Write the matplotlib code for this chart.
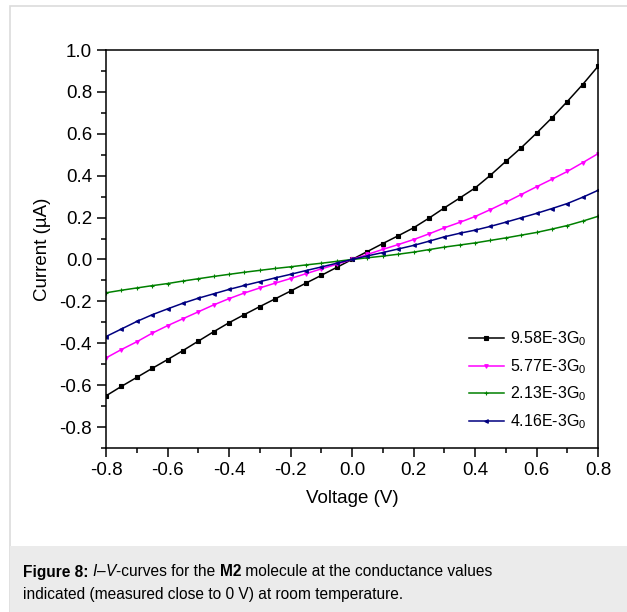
import numpy as np
import matplotlib.pyplot as plt
from matplotlib.patches import Rectangle
from matplotlib.ticker import MultipleLocator

plt.rcParams['font.family'] = ['Liberation Sans', 'DejaVu Sans']
plt.rcParams['mathtext.fontset'] = 'custom'
plt.rcParams['mathtext.rm'] = 'Liberation Sans'
plt.rcParams['mathtext.it'] = 'Liberation Sans:italic'
plt.rcParams['mathtext.bf'] = 'Liberation Sans:bold'

# bias voltage (V)
voltage = [-0.80, -0.75, -0.70, -0.65, -0.60, -0.55, -0.50, -0.45, -0.40,
           -0.35, -0.30, -0.25, -0.20, -0.15, -0.10, -0.05, 0.00,
           0.05, 0.10, 0.15, 0.20, 0.25, 0.30, 0.35, 0.40,
           0.45, 0.50, 0.55, 0.60, 0.65, 0.70, 0.75, 0.80]

# current (uA) for each conductance value
i_958 = [-0.651, -0.606, -0.563, -0.520, -0.478, -0.435, -0.390, -0.345, -0.302,
         -0.263, -0.225, -0.188, -0.151, -0.113, -0.076, -0.038, 0.000,
         0.038, 0.076, 0.113, 0.151, 0.197, 0.246, 0.293, 0.341,
         0.402, 0.468, 0.533, 0.603, 0.676, 0.754, 0.835, 0.922]
i_577 = [-0.470, -0.430, -0.393, -0.352, -0.316, -0.283, -0.250, -0.217, -0.187,
         -0.160, -0.136, -0.113, -0.091, -0.068, -0.045, -0.023, 0.000,
         0.024, 0.048, 0.071, 0.095, 0.122, 0.151, 0.177, 0.205,
         0.238, 0.273, 0.310, 0.347, 0.383, 0.420, 0.462, 0.505]
i_213 = [-0.159, -0.147, -0.136, -0.125, -0.115, -0.103, -0.092, -0.081, -0.071,
         -0.061, -0.052, -0.043, -0.035, -0.026, -0.018, -0.009, 0.000,
         0.008, 0.016, 0.025, 0.035, 0.047, 0.059, 0.069, 0.079,
         0.091, 0.103, 0.116, 0.129, 0.145, 0.162, 0.183, 0.206]
i_416 = [-0.368, -0.332, -0.296, -0.264, -0.236, -0.209, -0.185, -0.164, -0.143,
         -0.124, -0.106, -0.088, -0.071, -0.053, -0.036, -0.018, 0.000,
         0.017, 0.033, 0.050, 0.067, 0.087, 0.108, 0.125, 0.140,
         0.158, 0.178, 0.199, 0.220, 0.243, 0.267, 0.297, 0.330]

labels = [r'9.58E-3G$_{\mathregular{0}}$', r'5.77E-3G$_{\mathregular{0}}$',
          r'2.13E-3G$_{\mathregular{0}}$', r'4.16E-3G$_{\mathregular{0}}$']
colors = ['black', '#ff00ff', '#008000', '#000080']
markers = ['s', 'v', '+', '<']

caption_1 = [('Figure 8:', 'bold', 'normal'), (' ', 'normal', 'normal'),
             ('I', 'normal', 'italic'), ('\u2013', 'normal', 'normal'),
             ('V', 'normal', 'italic'), ('-curves for the ', 'normal', 'normal'),
             ('M2', 'bold', 'normal'),
             (' molecule at the conductance values', 'normal', 'normal')]
caption_2 = 'indicated (measured close to 0 V) at room temperature.'

fig = plt.figure(figsize=(6.27, 6.12), dpi=100)

# page frame and caption box
fig.patches.append(Rectangle((10/627, -0.01), 1, 606/612 + 0.01, transform=fig.transFigure,
                             facecolor='white', edgecolor='#dcdcdc', lw=1.2, zorder=-3))
fig.patches.append(Rectangle((10/627, -0.01), 1, 66/612 + 0.01, transform=fig.transFigure,
                             facecolor='#ebebeb', edgecolor='none', zorder=-2))

ax = fig.add_axes([106/627, 164/612, 492/627, 398/612])

for cur, lab, c, m in zip([i_958, i_577, i_213, i_416], labels, colors, markers):
    ax.plot(voltage, cur, color=c, lw=1.1, marker=m, ms=2.6, mew=0.8, label=lab)

ax.set_xlim(-0.8, 0.8)
ax.set_ylim(-0.9, 1.0)
ax.xaxis.set_major_locator(MultipleLocator(0.2))
ax.xaxis.set_minor_locator(MultipleLocator(0.1))
ax.yaxis.set_minor_locator(MultipleLocator(0.1))
ax.set_yticks(np.arange(-0.8, 1.01, 0.2))
fmt = plt.FuncFormatter(lambda v, p: f'{v:.1f}'.replace('-0.0', '0.0'))
ax.xaxis.set_major_formatter(fmt)
ax.yaxis.set_major_formatter(fmt)
ax.tick_params(which='major', direction='out', length=6.5, width=1.1, labelsize=13.5)
ax.tick_params(which='minor', direction='out', length=3.6, width=1.1)
for s in ax.spines.values():
    s.set_linewidth(1.1)

ax.set_xlabel('Voltage (V)', fontsize=13.5, labelpad=8)
ax.set_ylabel('Current (\u00b5A)', fontsize=13.5, labelpad=6)

ax.legend(loc='lower right', bbox_to_anchor=(1.0, 0.015), frameon=False, fontsize=11.5,
          handlelength=2.2, handletextpad=0.4, labelspacing=0.55, borderaxespad=0.3)

# caption, first line built from pieces with mixed styles
renderer = fig.canvas.get_renderer()
x = 23
for piece, weight, style in caption_1:
    t = fig.text(x / 627, (612 - 572) / 612, piece, fontsize=11.2, fontweight=weight,
                 fontstyle=style, va='center', ha='left')
    x += t.get_window_extent(renderer).width
fig.text(23 / 627, (612 - 594) / 612, caption_2, fontsize=11.2, va='center', ha='left')

fig.savefig('out.png', dpi=100)
